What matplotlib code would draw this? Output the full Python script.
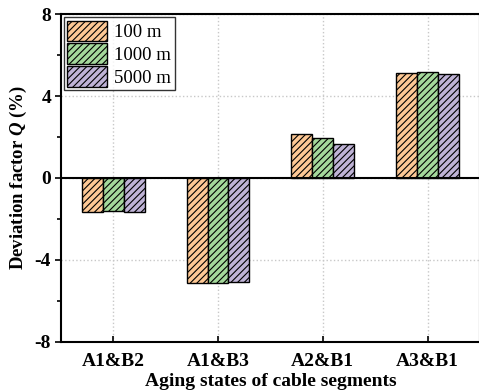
import numpy as np
import matplotlib
matplotlib.use('Agg')
import matplotlib.pyplot as plt
from matplotlib.ticker import MultipleLocator

plt.rcParams['font.family'] = ['Liberation Serif', 'DejaVu Serif']
plt.rcParams['mathtext.fontset'] = 'custom'
plt.rcParams['mathtext.it'] = 'Liberation Serif:bold:italic'
plt.rcParams['mathtext.rm'] = 'Liberation Serif:bold'
plt.rcParams['hatch.linewidth'] = 0.8
plt.rcParams['axes.unicode_minus'] = False

# data
categories = ['A1&B2', 'A1&B3', 'A2&B1', 'A3&B1']
series_names = ['100 m', '1000 m', '5000 m']
q_100 = [-1.67, -5.13, 2.16, 5.12]
q_1000 = [-1.63, -5.15, 1.96, 5.18]
q_5000 = [-1.67, -5.08, 1.67, 5.08]
colors = ['#FDC895', '#A4D89B', '#BFB3D6']

fig = plt.figure(figsize=(4.79, 3.92), dpi=100)
ax = fig.add_axes([0.127, 0.128, 0.875, 0.836])

x = np.arange(len(categories))
w = 0.2
for i, (vals, name) in enumerate(zip([q_100, q_1000, q_5000], series_names)):
    ax.bar(x + (i - 1) * w, vals, w, color=colors[i], edgecolor='black',
           linewidth=1.0, hatch='/////', label=name, zorder=3)

ax.axhline(0, color='black', linewidth=1.5, zorder=4)

ax.set_xlim(-0.5, 3.5)
ax.set_ylim(-8, 8)
ax.set_xticks(x)
ax.set_xticklabels(categories)
ax.yaxis.set_major_locator(MultipleLocator(4))
ax.yaxis.set_minor_locator(MultipleLocator(2))
ax.tick_params(axis='y', which='both', direction='out', width=1.2, pad=3)
ax.tick_params(axis='y', which='major', length=4)
ax.tick_params(axis='y', which='minor', length=3)
ax.tick_params(axis='x', direction='in', length=4, width=1.2, pad=8)
ax.tick_params(labelsize=14)
for lab in ax.get_xticklabels() + ax.get_yticklabels():
    lab.set_fontweight('bold')

ax.grid(True, color='#c8c8c8', linestyle=':', linewidth=1.0, zorder=0)
for s in ax.spines.values():
    s.set_linewidth(1.5)

ax.set_xlabel('Aging states of cable segments', fontsize=14, fontweight='bold', labelpad=2)
ax.set_ylabel('Deviation factor $Q$ (%)', fontsize=13.5, fontweight='bold', labelpad=4)

leg = ax.legend(loc='upper left', fontsize=13.5, frameon=True, fancybox=False,
                edgecolor='black', borderpad=0.2, handlelength=2.1, handleheight=1.3,
                handletextpad=0.4, labelspacing=0.12, borderaxespad=0.15)
leg.get_frame().set_linewidth(1.0)

fig.savefig('out.png', dpi=100)
